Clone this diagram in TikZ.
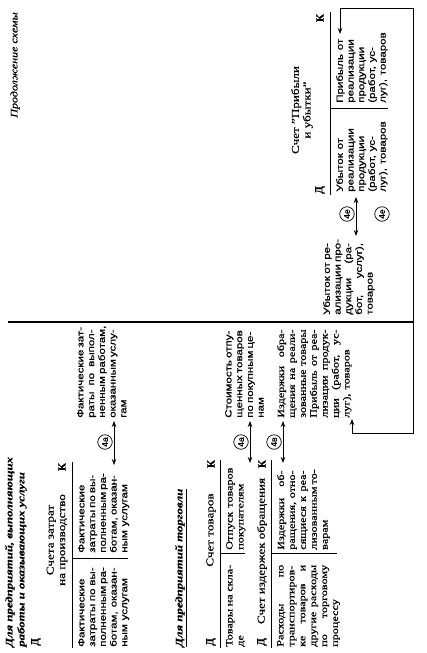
\documentclass[tikz,border=0pt]{standalone}
\usepackage{fontspec}
\usepackage{graphicx}
\setmainfont{Liberation Serif}[FakeBold=0.6]
\setsansfont{Liberation Sans}[FakeBold=0.6]
\usetikzlibrary{arrows.meta}
\newlength\jw
\newcommand\JL[1]{{\spaceskip=0pt\xspaceskip=0pt\makebox[\jw][s]{#1}}}
\begin{document}
\begin{tikzpicture}[x=1pt,y=-1pt,
  every node/.style={inner sep=0pt, rotate=90},
  jw/.style={text width=#1pt, execute at begin node={\setlength{\jw}{#1pt}}},
  sbody/.style={xscale=1.28, anchor=north west, align=left, font=\sffamily\fontsize{9}{10.7}\selectfont},
  rbody/.style={xscale=1.28, anchor=north west, align=left, font=\rmfamily\fontsize{9.5}{10.9}\selectfont},
  hdr/.style={xscale=1.25, align=center, font=\rmfamily\fontsize{10.5}{11.5}\selectfont},
  dk/.style={font=\rmfamily\bfseries\fontsize{11}{12}\selectfont},
  ttl/.style={xscale=1.28, anchor=north west, align=left, font=\rmfamily\bfseries\itshape\fontsize{10}{12}\selectfont},
  num/.style={circle, draw, line width=0.7pt, minimum size=14.5pt, inner sep=0pt, font=\sffamily\fontsize{8.5}{9}\selectfont},
  tl/.style={line width=1pt},
  dbl/.style={line width=0.9pt, {Stealth[length=6pt,width=4.5pt]}-{Stealth[length=6pt,width=4.5pt]}},
]
\useasboundingbox[fill=white] (0,0) rectangle (426,653);

% headings
\node[xscale=1.2, font=\rmfamily\itshape\fontsize{10}{12}\selectfont, anchor=east] (cont) at (15,12) {Продолжение схемы};
\node[ttl] (t1) at (5,647) {Для предприятий, выполняющих\\работы и оказывающих услуги};
\node[ttl] (t2) at (175,647) {\underline{Для предприятий торговли}};

% account 1
\node[dk] (d1) at (36,642) {Д};
\node[hdr] (h1) at (57,540) {Счета затрат\\на производство};
\node[dk] (k1) at (62,467) {К};
\draw[tl] (72,648) -- (72,462);
\draw[tl] (72,558) -- (128,558);
\node[sbody, jw=62] (a1l) at (78,647) {Фактические\\\JL{затраты по вы-}\\\JL{полненным ра-}\\\JL{ботам, оказан-}\\ным услугам};
\node[sbody, jw=60] (a1r) at (78,553) {Фактические\\\JL{затраты по вы-}\\\JL{полненным ра-}\\\JL{ботам, оказан-}\\ным услугам};

% account 2
\node[dk] (d2) at (211,642) {Д};
\node[hdr] (h2) at (211,530) {Счет товаров};
\node[dk] (k2) at (211,464) {К};
\draw[tl] (220,648) -- (220,460);
\draw[tl] (220,553) -- (245,553);
\node[rbody, jw=64] (a2l) at (226,647) {\JL{Товары на скла-}\\де};
\node[rbody, jw=70] (a2r) at (226,550) {Отпуск товаров\\покупателям};

% account 3
\node[dk] (d3) at (262,642) {Д};
\node[font=\rmfamily\fontsize{10.5}{11.5}\selectfont] (h3) at (262,551) {\resizebox{146pt}{\height}{Счет издержек обращения}};
\node[dk] (k3) at (262,464) {К};
\draw[tl] (271,648) -- (271,460);
\draw[tl] (271,553) -- (337,553);
\node[rbody, jw=64] (a3l) at (277,647) {\JL{Расходы по}\\\JL{транспортиров-}\\\JL{ке товаров и}\\\JL{другие расходы}\\\JL{по торговому}\\процессу};
\node[rbody, jw=62] (a3r) at (277,550) {\JL{Издержки об-}\\\JL{ращения, отно-}\\\JL{сящиеся к реа-}\\\JL{лизованным то-}\\варам};

% middle texts
\node[sbody, jw=69] (m1) at (77,418) {\JL{Фактические зат-}\\\JL{раты по выпол-}\\\JL{ненным работам,}\\\JL{оказанным услу-}\\гам};
\node[sbody, jw=67] (m2) at (225,418) {\JL{Стоимость отпу-}\\\JL{щенных товаров}\\\JL{по покупным це-}\\нам};
\node[rbody, jw=69] (m3) at (277,418) {\JL{Издержки обра-}\\\JL{щения на реали-}\\\JL{зованные товары}\\\JL{Прибыль от реа-}\\\JL{лизации продук-}\\\JL{ции (работ, ус-}\\луг), товаров};
\node[sbody, jw=56] (m4) at (323,315) {\JL{Убыток от ре-}\\\JL{ализации про-}\\\JL{дукции (ра-}\\\JL{бот, услуг),}\\товаров};

% divider
\draw[line width=1.2pt] (8,322) -- (413,322);

% P&L account
\node[hdr] (h4) at (302,110) {Счет "Прибыли\\и убытки"};
\node[dk] (d4) at (320,190) {Д};
\node[dk] (k4) at (320,18) {К};
\draw[tl] (330,195) -- (330,12);
\draw[tl] (330,108) -- (388,108);
\node[sbody, jw=58] (pl) at (336,192) {Убыток от\\реализации\\продукции\\(работ, ус-\\луг), товаров};
\node[sbody, jw=58] (pr) at (336,103) {Прибыль от\\реализации\\продукции\\(работ, ус-\\луг), товаров};

% circles and arrows
\node[num] (c1) at (105,442) {4а};
\node[num] (c2) at (241,442) {4а};
\node[num] (c3) at (274,442) {4в};
\node[num] (c4) at (347,214) {4е};
\node[num] (c5) at (382,214) {4е};
\coordinate (e1a) at (114,421); \coordinate (e1b) at (114,465);
\coordinate (e2a) at (250,421); \coordinate (e2b) at (250,463);
\coordinate (e3a) at (283,421); \coordinate (e3b) at (283,463);
\coordinate (e4a) at (356,197); \coordinate (e4b) at (356,236);
\draw[dbl] (e1a) -- (e1b);
\draw[dbl] (e2a) -- (e2b);
\draw[dbl] (e3a) -- (e3b);
\draw[dbl] (e4a) -- (e4b);
\coordinate (p1) at (352,419); \coordinate (p2) at (340,34);
\draw[dbl] (p1) -- (352,433) -- (413,433) -- (413,8) -- (340,8) -- (p2);
\end{tikzpicture}
\end{document}
